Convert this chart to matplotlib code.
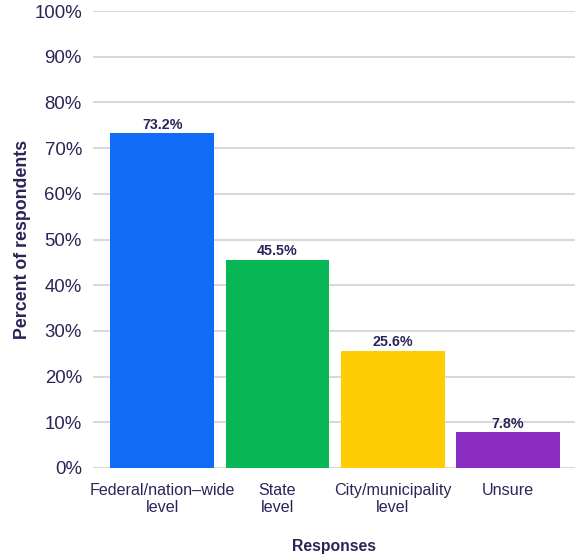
import numpy as np
import matplotlib.pyplot as plt

categories = ["Federal/nation\u2013wide\nlevel", "State\nlevel", "City/municipality\nlevel", "Unsure"]
values = [73.2, 45.5, 25.6, 7.8]
colors = ["#106CF6", "#09B655", "#FFCC05", "#8B2CC3"]
yticks = [0, 10, 20, 30, 40, 50, 60, 70, 80, 90, 100]

navy = "#2B2557"
plt.rcParams['font.family'] = ['Liberation Sans', 'DejaVu Sans']

fig = plt.figure(figsize=(5.75, 5.59), dpi=100)
ax = fig.add_axes([93 / 575, 1 - 468 / 559, (575 - 93) / 575, (468 - 11) / 559])

x = np.arange(len(categories))
ax.bar(x, values, width=0.9, color=colors, zorder=3)
for xi, v in zip(x, values):
    ax.text(xi, v + 0.4, f"{v}%", ha="center", va="bottom", fontsize=10.3,
            fontweight="bold", color=navy, zorder=4)

ax.set_xlim(-0.6, 3.58)
ax.set_ylim(0, 100)
ax.set_yticks(yticks)
ax.set_yticklabels([f"{t}%" for t in yticks], fontsize=13.4, color=navy)
ax.set_xticks(x)
ax.set_xticklabels(categories, fontsize=11.6, color=navy, linespacing=1.15)
ax.tick_params(axis="y", length=0, pad=8)
ax.tick_params(axis="x", length=0, pad=11)
ax.grid(axis="y", color="#D9D9D9", linewidth=1.5, zorder=0)
for s in ax.spines.values():
    s.set_visible(False)

ax.set_ylabel("Percent of respondents", fontsize=12.8, fontweight="bold", color=navy, va="center")
ax.set_xlabel("Responses", fontsize=11.3, fontweight="bold", color=navy, va="center")
ax.yaxis.set_label_coords(-0.147, 0.5)
ax.xaxis.set_label_coords(0.5, -0.171)

fig.savefig("out.png", dpi=100)
